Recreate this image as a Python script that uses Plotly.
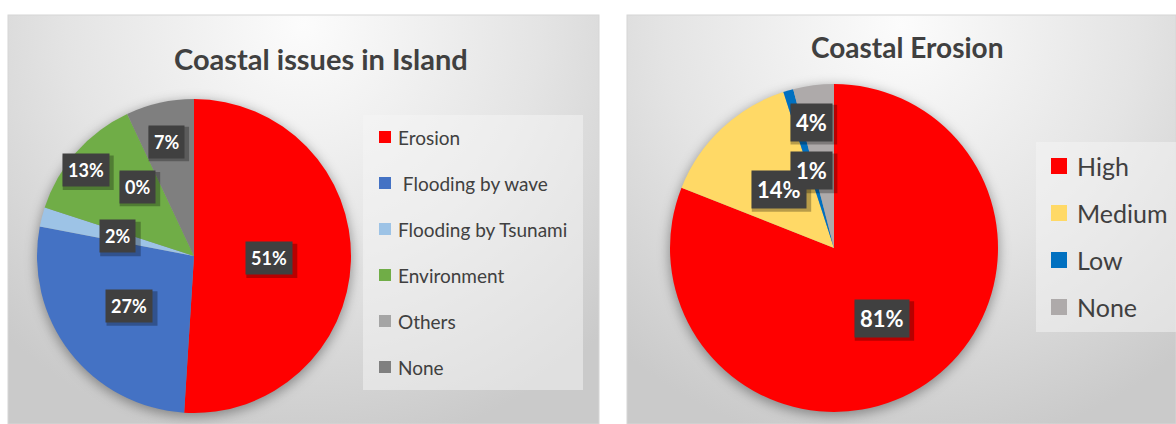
import base64
import math

import plotly.graph_objects as go

# ---- data -------------------------------------------------------------
issue_labels = ["Erosion", " Flooding by wave", "Flooding by Tsunami",
                "Environment", "Others", "None"]
issue_values = [51, 27, 2, 13, 0, 7]
issue_colors = ["#FF0000", "#4472C4", "#9DC3E6", "#70AD47", "#A5A5A5", "#7F7F7F"]

erosion_labels = ["High", "Medium", "Low", "None"]
erosion_values = [81, 14, 1, 4]
erosion_colors = ["#FF0000", "#FFD966", "#0070C0", "#AEAAAA"]

titles = ["Coastal issues in Island", "Coastal Erosion"]

# ---- canvas / layout geometry (pixels) --------------------------------
W, H = 1176, 424
FONT = "Lato"
TXT = "#404040"

panels = [dict(x0=8, y0=15, x1=599, y1=424), dict(x0=627, y0=15, x1=1176, y1=424)]
pies = [dict(cx=194, cy=256, r=157), dict(cx=834, cy=248, r=164)]

# label placement along each slice's bisector (fraction of radius, angle nudge in degrees)
label_rfrac = [[0.48, 0.52, 0.50, 0.88, 0.57, 0.75], [0.52, 0.49, 0.49, 0.78]]
label_dtheta = [[0, 0, 0, -3, -14, -1], [0, 0, 0, -3]]
label_size = [18, 22]
LABEL_PAD = 5


def px(x):
    return x / W


def py(y):
    return 1 - y / H


# ---- background panels with radial gradient and pie shadows ------------
def background_svg():
    parts = [f'<svg xmlns="http://www.w3.org/2000/svg" width="{W}" height="{H}" '
             f'viewBox="0 0 {W} {H}"><defs>']
    for i, p in enumerate(panels):
        gx = (p["x0"] + p["x1"]) / 2
        parts.append(
            f'<radialGradient id="g{i}" gradientUnits="userSpaceOnUse" cx="{gx}" cy="25" r="430">'
            '<stop offset="0" stop-color="#fcfcfc"/><stop offset="0.55" stop-color="#e4e4e4"/>'
            '<stop offset="1" stop-color="#cacaca"/></radialGradient>')
    parts.append('<filter id="blur" x="-30%" y="-30%" width="160%" height="160%">'
                 '<feGaussianBlur stdDeviation="6"/></filter></defs>')
    parts.append(f'<rect width="{W}" height="{H}" fill="#ffffff"/>')
    for i, p in enumerate(panels):
        parts.append(f'<rect x="{p["x0"]}" y="{p["y0"]}" width="{p["x1"] - p["x0"]}" '
                     f'height="{p["y1"] - p["y0"]}" fill="url(#g{i})" stroke="#d6d6d6" stroke-width="1"/>')
    for pie in pies:
        parts.append(f'<circle cx="{pie["cx"]}" cy="{pie["cy"] + 3}" r="{pie["r"] + 1}" '
                     f'fill="#000" fill-opacity="0.35" filter="url(#blur)"/>')
    parts.append('</svg>')
    return "data:image/svg+xml;base64," + base64.b64encode("".join(parts).encode()).decode()


fig = go.Figure()

# ---- pies ---------------------------------------------------------------
for k, (labels, values, colors) in enumerate([(issue_labels, issue_values, issue_colors),
                                              (erosion_labels, erosion_values, erosion_colors)]):
    pie = pies[k]
    fig.add_trace(go.Pie(
        labels=labels, values=values, sort=False, direction="clockwise", rotation=0,
        marker=dict(colors=colors, line=dict(width=0)),
        textinfo="none", hoverinfo="label+percent", showlegend=False,
        domain=dict(x=[px(pie["cx"] - pie["r"]), px(pie["cx"] + pie["r"])],
                    y=[py(pie["cy"] + pie["r"]), py(pie["cy"] - pie["r"])]),
    ))

annotations = []
shapes = []

# ---- data labels: dark boxes on slice bisectors ---------------------------
for k, values in enumerate([issue_values, erosion_values]):
    pie = pies[k]
    size = label_size[k]
    total = sum(values)
    cum = 0
    for j, v in enumerate(values):
        mid = (cum + v / 2) / total * 360 + label_dtheta[k][j]
        cum += v
        a = math.radians(mid)
        rr = label_rfrac[k][j] * pie["r"]
        lx = pie["cx"] + rr * math.sin(a)
        ly = pie["cy"] - rr * math.cos(a)
        pct = round(100 * v / total)
        # soft drop shadow: a translucent box sized roughly like the label box
        bw = size * (0.58 * len(str(pct)) + 0.95) + 2 * LABEL_PAD + 2
        bh = size * 1.3 + 2 * LABEL_PAD
        shapes.append(dict(type="rect", xref="paper", yref="paper", layer="above",
                           xsizemode="pixel", ysizemode="pixel",
                           xanchor=px(lx), yanchor=py(ly),
                           x0=-bw / 2 + 2, x1=bw / 2 + 3, y0=-bh / 2 - 3, y1=bh / 2 - 2,
                           fillcolor="rgba(0,0,0,0.28)", line=dict(width=0)))
        annotations.append(dict(xref="paper", yref="paper", x=px(lx), y=py(ly),
                                showarrow=False, xanchor="center", yanchor="middle",
                                borderpad=LABEL_PAD, bgcolor="#404040",
                                text=f"<b>{pct}%</b>",
                                font=dict(family=FONT, size=size, color="#ffffff")))

# ---- titles -------------------------------------------------------------
annotations.append(dict(xref="paper", yref="paper", x=px(321), y=py(58), showarrow=False,
                        xanchor="center", yanchor="middle", text=f"<b>{titles[0]}</b>",
                        font=dict(family=FONT, size=29, color=TXT)))
annotations.append(dict(xref="paper", yref="paper", x=px(907), y=py(47), showarrow=False,
                        xanchor="center", yanchor="middle", text=f"<b>{titles[1]}</b>",
                        font=dict(family=FONT, size=28, color=TXT)))

# ---- legends ------------------------------------------------------------
legends = [
    dict(labels=issue_labels, colors=issue_colors, box=(363, 115, 583, 390),
         y0=137, step=46, mx=379, msize=12, tx=396, fsize=19),
    dict(labels=erosion_labels, colors=erosion_colors, box=(1036, 142, 1180, 332),
         y0=166, step=47, mx=1051, msize=16, tx=1075, fsize=25),
]
for lg in legends:
    bx0, by0, bx1, by1 = lg["box"]
    shapes.append(dict(type="rect", xref="paper", yref="paper", layer="above",
                       x0=px(bx0), x1=px(bx1), y0=py(by1), y1=py(by0),
                       fillcolor="rgba(245,245,245,0.5)", line=dict(width=0)))
    for i, (lab, col) in enumerate(zip(lg["labels"], lg["colors"])):
        yc = lg["y0"] + i * lg["step"]
        s = lg["msize"]
        shapes.append(dict(type="rect", xref="paper", yref="paper", layer="above",
                           x0=px(lg["mx"]), x1=px(lg["mx"] + s),
                           y0=py(yc + s / 2), y1=py(yc - s / 2),
                           fillcolor=col, line=dict(width=0)))
        annotations.append(dict(xref="paper", yref="paper", x=px(lg["tx"]), y=py(yc),
                                showarrow=False, xanchor="left", yanchor="middle",
                                text=lab.replace(" ", "&nbsp;", 1) if lab.startswith(" ") else lab,
                                font=dict(family=FONT, size=lg["fsize"], color=TXT)))

fig.update_layout(
    width=W, height=H, margin=dict(l=0, r=0, t=0, b=0),
    paper_bgcolor="#ffffff", plot_bgcolor="rgba(0,0,0,0)",
    images=[dict(source=background_svg(), xref="paper", yref="paper", x=0, y=1,
                 sizex=1, sizey=1, xanchor="left", yanchor="top", sizing="stretch",
                 layer="below")],
    annotations=annotations, shapes=shapes,
)

fig.write_html("out.html")
